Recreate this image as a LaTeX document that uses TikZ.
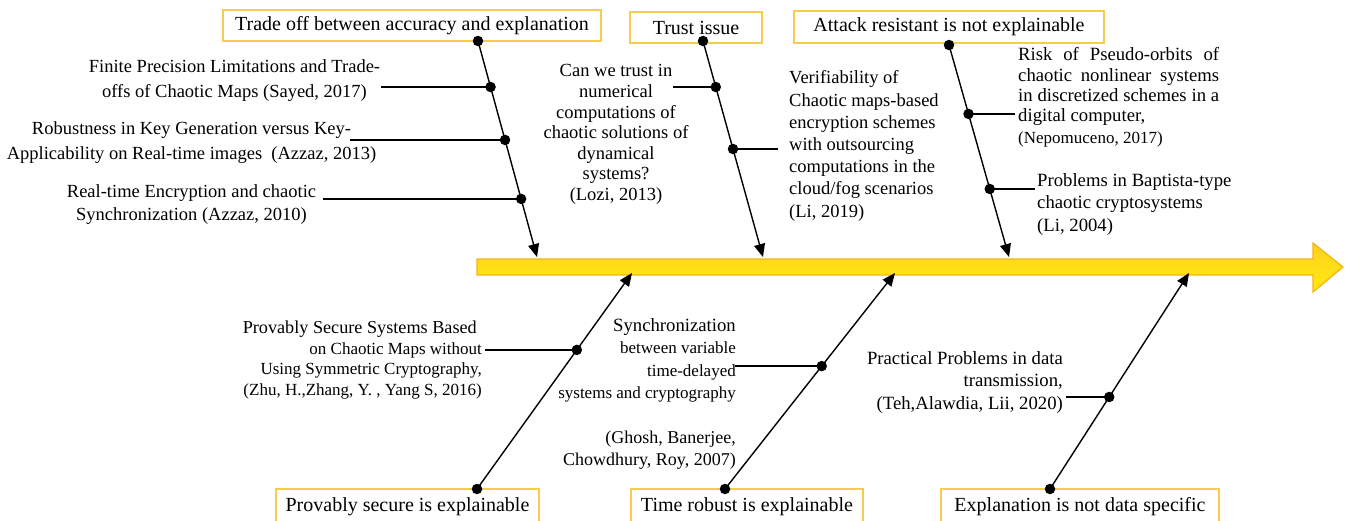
\documentclass[tikz,border=0pt]{standalone}
\usepackage{fontspec}
\setmainfont{Liberation Serif}
\usetikzlibrary{arrows.meta,calc}
\definecolor{boxgold}{HTML}{F4CC50}
\definecolor{arrowedge}{HTML}{F6B414}
\definecolor{arrowtop}{HTML}{FFD21E}
\definecolor{arrowbot}{HTML}{FFE910}
\newcommand{\setfs}[2]{\fontsize{#1}{#2}\selectfont}

\begin{document}
\begin{tikzpicture}[x=1pt,y=-1pt,
  causebox/.style={draw=boxgold,line width=1.8pt,inner sep=0pt,font=\setfs{20}{24},fill=white},
  dot/.style={circle,fill=black,inner sep=0pt,minimum size=10.5pt},
  spine/.style={line width=1.4pt,-{Triangle[length=13pt,width=11pt]}},
  branch/.style={line width=1.4pt},
  lbl/.style={inner sep=0pt},
]
\useasboundingbox (0,0) rectangle (1346,520);

% main effect arrow
\path[draw=arrowedge,line width=1.2pt,top color=arrowtop,bottom color=arrowbot]
  (477,259) -- (1313,259) -- (1313,243) -- (1343,267) -- (1313,292)
  -- (1313,275) -- (477,275) -- cycle;

% category boxes
\node[causebox,minimum width=378pt,minimum height=31pt] (c1) at (412,25.5) {Trade off between accuracy and explanation};
\node[causebox,minimum width=132pt,minimum height=31pt] (c2) at (696,27.5) {Trust issue};
\node[causebox,minimum width=310pt,minimum height=32pt] (c3) at (949,27) {Attack resistant is not explainable};
\node[causebox,minimum width=263pt,minimum height=36pt] (c4) at (407.5,507) {Provably secure is explainable};
\node[causebox,minimum width=232pt,minimum height=36pt] (c5) at (747,507) {Time robust is explainable};
\node[causebox,minimum width=278pt,minimum height=36pt] (c6) at (1080,507) {Explanation is not data specific};

% spine end points on the main arrow
\coordinate (t1) at (537,257);
\coordinate (t2) at (763,257);
\coordinate (t3) at (1009,257);
\coordinate (u1) at (632,273);
\coordinate (u2) at (895,273);
\coordinate (u3) at (1189,273);

% spine start dots
\node[dot] (s1) at (478,41) {};
\node[dot] (s2) at (703,41) {};
\node[dot] (s3) at (949,45) {};
\node[dot] (b1) at (477,489) {};
\node[dot] (b2) at (725,489) {};
\node[dot] (b3) at (1050,489) {};

% spines
\draw[spine] (s1.center) -- (t1);
\draw[spine] (s2.center) -- (t2);
\draw[spine] (s3.center) -- (t3);
\draw[spine] (b1.center) -- (u1);
\draw[spine] (b2.center) -- (u2);
\draw[spine] (b3.center) -- (u3);

% branch dots
\node[dot] (d11) at ($(s1.center)!0.213!(t1)$) {};
\node[dot] (d12) at ($(s1.center)!0.458!(t1)$) {};
\node[dot] (d13) at ($(s1.center)!0.731!(t1)$) {};
\node[dot] (d21) at ($(s2.center)!0.213!(t2)$) {};
\node[dot] (d22) at ($(s2.center)!0.5!(t2)$) {};
\node[dot] (d31) at ($(s3.center)!0.325!(t3)$) {};
\node[dot] (d32) at ($(s3.center)!0.679!(t3)$) {};
\node[dot] (e11) at ($(b1.center)!0.644!(u1)$) {};
\node[dot] (e21) at ($(b2.center)!0.569!(u2)$) {};
\node[dot] (e31) at ($(b3.center)!0.426!(u3)$) {};

% branch line ends
\coordinate (x11) at (381,0);
\coordinate (x12) at (350,0);
\coordinate (x13) at (323,0);
\coordinate (x21) at (673,0);
\coordinate (x22) at (778,0);
\coordinate (x31) at (1015,0);
\coordinate (x32) at (1035,0);
\coordinate (y11) at (485,0);
\coordinate (y21) at (735,0);
\coordinate (y31) at (1066,0);

\draw[branch] (d11.center) -- (d11.center -| x11);
\draw[branch] (d12.center) -- (d12.center -| x12);
\draw[branch] (d13.center) -- (d13.center -| x13);
\draw[branch] (d21.center) -- (d21.center -| x21);
\draw[branch] (d22.center) -- (d22.center -| x22);
\draw[branch] (d31.center) -- (d31.center -| x31);
\draw[branch] (d32.center) -- (d32.center -| x32);
\draw[branch] (e11.center) -- (e11.center -| y11);
\draw[branch] (e21.center) -- (e21.center -| y21);
\draw[branch] (e31.center) -- (e31.center -| y31);

% cause labels, upper side
\node[lbl,align=center,font=\setfs{18.5}{25}] (n11) at (234.5,80.5)
  {Finite Precision Limitations and Trade-\\offs of Chaotic Maps (Sayed, 2017)};
\node[lbl,align=center,font=\setfs{18.5}{24.5}] (n12) at (191.5,142.5)
  {Robustness in Key Generation versus Key-\\Applicability on Real-time images~ (Azzaz, 2013)};
\node[lbl,align=center,font=\setfs{18.5}{23}] (n13) at (191.5,204.5)
  {Real-time Encryption and chaotic\\Synchronization (Azzaz, 2010)};
\node[lbl,align=center,font=\setfs{18.5}{20.6}] (n21) at (616,134.5)
  {Can we trust in\\numerical\\computations of\\chaotic solutions of\\dynamical\\systems?\\(Lozi, 2013)};
\node[lbl,align=left,font=\setfs{18.5}{22.2},anchor=west] (n22) at (789,146)
  {Verifiability of\\Chaotic maps-based\\encryption schemes\\with outsourcing\\computations in the\\cloud/fog scenarios\\(Li, 2019)};
\node[lbl,align=left,font=\setfs{18.7}{20.3},anchor=west] (n31) at (1018,97.5)
  {\makebox[201pt][s]{Risk of Pseudo-orbits of}\\\makebox[201pt][s]{chaotic nonlinear systems}\\\makebox[201pt][s]{in discretized schemes in a}\\digital computer,\\[1.5pt]{\setfs{17}{20.3}(Nepomuceno, 2017)}};
\node[lbl,align=left,font=\setfs{18.7}{22.5},anchor=west] (n32) at (1037,204)
  {Problems in Baptista-type\\chaotic cryptosystems\\(Li, 2004)};

% cause labels, lower side
\node[lbl,align=right,font=\setfs{17}{20.5},anchor=east] (m11) at (482,360)
  {{\setfs{18.2}{20.5}Provably Secure Systems Based\hspace*{5pt}}\\on Chaotic Maps without\\Using Symmetric Cryptography,\\(Zhu, H.,Zhang, Y. , Yang S, 2016)};
\node[lbl,align=right,font=\setfs{17}{22.3},anchor=east] (m21) at (736,394)
  {{\setfs{18.7}{22.3}Synchronization}\\between variable\\time-delayed\hspace*{4pt}\\systems and cryptography\\[22.3pt]{\setfs{18}{22.3}(Ghosh, Banerjee,}\\{\setfs{18}{22.3}Chowdhury, Roy, 2007)}};
\node[lbl,align=right,font=\setfs{18.7}{22.5},anchor=east] (m31) at (1063,382)
  {Practical Problems in data\\transmission,\\(Teh,Alawdia, Lii, 2020)};
\end{tikzpicture}
\end{document}
